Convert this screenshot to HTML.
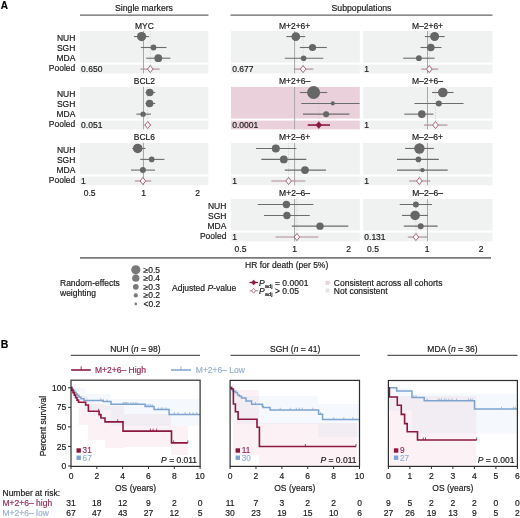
<!DOCTYPE html>
<html><head><meta charset="utf-8"><style>
html,body{margin:0;padding:0;background:#fff;}
svg{display:block;filter:blur(0.3px);font-family:"Liberation Sans",sans-serif;}
</style></head><body>
<svg width="520" height="518" viewBox="0 0 520 518">
<rect width="520" height="518" fill="#fff"/>
<text x="0.80" y="9.10" font-size="10" text-anchor="start" fill="#000" stroke="#000" stroke-width="0.18" font-weight="bold">A</text>
<text x="0.80" y="347.60" font-size="10.5" text-anchor="start" fill="#000" stroke="#000" stroke-width="0.18" font-weight="bold">B</text>
<text x="144.00" y="11.30" font-size="8.7" text-anchor="middle" fill="#1a1a1a" stroke="#1a1a1a" stroke-width="0.18" >Single markers</text>
<line x1="80.00" y1="15.20" x2="208.50" y2="15.20" stroke="#666" stroke-width="1.2" />
<text x="361.50" y="11.30" font-size="8.7" text-anchor="middle" fill="#1a1a1a" stroke="#1a1a1a" stroke-width="0.18" >Subpopulations</text>
<line x1="230.50" y1="15.20" x2="492.50" y2="15.20" stroke="#666" stroke-width="1.2" />
<rect x="79.90" y="31.00" width="128.40" height="31.60" fill="#f0f1f1" />
<rect x="79.90" y="64.60" width="128.40" height="8.80" fill="#f0f1f1" />
<text x="144.40" y="28.50" font-size="8.5" text-anchor="middle" fill="#1a1a1a" stroke="#1a1a1a" stroke-width="0.18" >MYC</text>
<line x1="143.50" y1="31.00" x2="143.50" y2="73.40" stroke="#a8a8a8" stroke-width="1.0" />
<line x1="150.30" y1="31.00" x2="150.30" y2="73.40" stroke="#c0c0c0" stroke-width="0.6" stroke-dasharray="1.2 1.6"/>
<line x1="133.90" y1="36.55" x2="149.10" y2="36.55" stroke="#6c6c6c" stroke-width="1.1" />
<circle cx="141.60" cy="36.55" r="4.60" fill="#666666"/>
<line x1="140.90" y1="47.50" x2="166.50" y2="47.50" stroke="#6c6c6c" stroke-width="1.1" />
<circle cx="153.50" cy="47.50" r="2.90" fill="#666666"/>
<line x1="146.20" y1="58.20" x2="170.40" y2="58.20" stroke="#6c6c6c" stroke-width="1.1" />
<circle cx="158.30" cy="58.20" r="3.90" fill="#666666"/>
<line x1="140.40" y1="69.10" x2="159.70" y2="69.10" stroke="#ab8a95" stroke-width="1.1" />
<path d="M147.50 69.10L150.30 65.60L153.10 69.10L150.30 72.60Z" fill="#fff" stroke="#9e5573" stroke-width="0.9"/>
<text x="81.10" y="71.60" font-size="8.5" text-anchor="start" fill="#1a1a1a" stroke="#1a1a1a" stroke-width="0.18" >0.650</text>
<text x="75.30" y="40.60" font-size="8.5" text-anchor="end" fill="#1a1a1a" stroke="#1a1a1a" stroke-width="0.18" >NUH</text>
<text x="75.30" y="50.70" font-size="8.5" text-anchor="end" fill="#1a1a1a" stroke="#1a1a1a" stroke-width="0.18" >SGH</text>
<text x="75.30" y="60.70" font-size="8.5" text-anchor="end" fill="#1a1a1a" stroke="#1a1a1a" stroke-width="0.18" >MDA</text>
<text x="75.30" y="71.10" font-size="8.5" text-anchor="end" fill="#1a1a1a" stroke="#1a1a1a" stroke-width="0.18" >Pooled</text>
<rect x="79.90" y="86.95" width="128.40" height="31.60" fill="#f0f1f1" />
<rect x="79.90" y="120.55" width="128.40" height="8.80" fill="#f0f1f1" />
<text x="144.40" y="84.45" font-size="8.5" text-anchor="middle" fill="#1a1a1a" stroke="#1a1a1a" stroke-width="0.18" >BCL2</text>
<line x1="143.50" y1="86.95" x2="143.50" y2="129.35" stroke="#a8a8a8" stroke-width="1.0" />
<line x1="147.70" y1="86.95" x2="147.70" y2="129.35" stroke="#c0c0c0" stroke-width="0.6" stroke-dasharray="1.2 1.6"/>
<line x1="145.50" y1="92.50" x2="155.20" y2="92.50" stroke="#6c6c6c" stroke-width="1.1" />
<circle cx="149.70" cy="92.50" r="3.80" fill="#666666"/>
<line x1="145.50" y1="103.45" x2="155.20" y2="103.45" stroke="#6c6c6c" stroke-width="1.1" />
<circle cx="149.60" cy="103.45" r="3.80" fill="#666666"/>
<line x1="136.40" y1="114.15" x2="150.90" y2="114.15" stroke="#6c6c6c" stroke-width="1.1" />
<circle cx="143.10" cy="114.15" r="2.70" fill="#666666"/>
<line x1="144.50" y1="125.05" x2="151.20" y2="125.05" stroke="#ab8a95" stroke-width="1.1" />
<path d="M144.90 125.05L147.70 121.55L150.50 125.05L147.70 128.55Z" fill="#fff" stroke="#9e5573" stroke-width="0.9"/>
<text x="81.10" y="127.55" font-size="8.5" text-anchor="start" fill="#1a1a1a" stroke="#1a1a1a" stroke-width="0.18" >0.051</text>
<text x="75.30" y="96.55" font-size="8.5" text-anchor="end" fill="#1a1a1a" stroke="#1a1a1a" stroke-width="0.18" >NUH</text>
<text x="75.30" y="106.65" font-size="8.5" text-anchor="end" fill="#1a1a1a" stroke="#1a1a1a" stroke-width="0.18" >SGH</text>
<text x="75.30" y="116.65" font-size="8.5" text-anchor="end" fill="#1a1a1a" stroke="#1a1a1a" stroke-width="0.18" >MDA</text>
<text x="75.30" y="127.05" font-size="8.5" text-anchor="end" fill="#1a1a1a" stroke="#1a1a1a" stroke-width="0.18" >Pooled</text>
<rect x="79.90" y="142.90" width="128.40" height="31.60" fill="#f0f1f1" />
<rect x="79.90" y="176.50" width="128.40" height="8.80" fill="#f0f1f1" />
<text x="144.40" y="140.40" font-size="8.5" text-anchor="middle" fill="#1a1a1a" stroke="#1a1a1a" stroke-width="0.18" >BCL6</text>
<line x1="143.50" y1="142.90" x2="143.50" y2="185.30" stroke="#a8a8a8" stroke-width="1.0" />
<line x1="142.90" y1="142.90" x2="142.90" y2="185.30" stroke="#c0c0c0" stroke-width="0.6" stroke-dasharray="1.2 1.6"/>
<line x1="132.30" y1="148.45" x2="145.50" y2="148.45" stroke="#6c6c6c" stroke-width="1.1" />
<circle cx="137.70" cy="148.45" r="4.80" fill="#666666"/>
<line x1="140.20" y1="159.40" x2="164.40" y2="159.40" stroke="#6c6c6c" stroke-width="1.1" />
<circle cx="151.70" cy="159.40" r="2.80" fill="#666666"/>
<line x1="131.00" y1="170.10" x2="155.00" y2="170.10" stroke="#6c6c6c" stroke-width="1.1" />
<circle cx="142.90" cy="170.10" r="3.00" fill="#666666"/>
<line x1="134.80" y1="181.00" x2="151.20" y2="181.00" stroke="#ab8a95" stroke-width="1.1" />
<path d="M140.10 181.00L142.90 177.50L145.70 181.00L142.90 184.50Z" fill="#fff" stroke="#9e5573" stroke-width="0.9"/>
<text x="81.10" y="183.50" font-size="8.5" text-anchor="start" fill="#1a1a1a" stroke="#1a1a1a" stroke-width="0.18" >1</text>
<text x="75.30" y="152.50" font-size="8.5" text-anchor="end" fill="#1a1a1a" stroke="#1a1a1a" stroke-width="0.18" >NUH</text>
<text x="75.30" y="162.60" font-size="8.5" text-anchor="end" fill="#1a1a1a" stroke="#1a1a1a" stroke-width="0.18" >SGH</text>
<text x="75.30" y="172.60" font-size="8.5" text-anchor="end" fill="#1a1a1a" stroke="#1a1a1a" stroke-width="0.18" >MDA</text>
<text x="75.30" y="183.00" font-size="8.5" text-anchor="end" fill="#1a1a1a" stroke="#1a1a1a" stroke-width="0.18" >Pooled</text>
<rect x="231.00" y="31.00" width="128.80" height="31.60" fill="#f0f1f1" />
<rect x="231.00" y="64.60" width="128.80" height="8.80" fill="#f0f1f1" />
<text x="294.60" y="28.50" font-size="8.5" text-anchor="middle" fill="#1a1a1a" stroke="#1a1a1a" stroke-width="0.18" >M+2+6+</text>
<line x1="294.60" y1="31.00" x2="294.60" y2="73.40" stroke="#a8a8a8" stroke-width="1.0" />
<line x1="303.10" y1="31.00" x2="303.10" y2="73.40" stroke="#c0c0c0" stroke-width="0.6" stroke-dasharray="1.2 1.6"/>
<line x1="286.40" y1="36.55" x2="305.20" y2="36.55" stroke="#6c6c6c" stroke-width="1.1" />
<circle cx="295.80" cy="36.55" r="4.40" fill="#666666"/>
<line x1="299.80" y1="47.50" x2="326.80" y2="47.50" stroke="#6c6c6c" stroke-width="1.1" />
<circle cx="312.50" cy="47.50" r="3.60" fill="#666666"/>
<line x1="284.80" y1="58.20" x2="323.30" y2="58.20" stroke="#6c6c6c" stroke-width="1.1" />
<circle cx="303.60" cy="58.20" r="2.80" fill="#666666"/>
<line x1="293.70" y1="69.10" x2="313.30" y2="69.10" stroke="#ab8a95" stroke-width="1.1" />
<path d="M300.30 69.10L303.10 65.60L305.90 69.10L303.10 72.60Z" fill="#fff" stroke="#9e5573" stroke-width="0.9"/>
<text x="232.20" y="71.60" font-size="8.5" text-anchor="start" fill="#1a1a1a" stroke="#1a1a1a" stroke-width="0.18" >0.677</text>
<rect x="231.00" y="86.95" width="128.80" height="31.60" fill="#e9d0da" />
<rect x="231.00" y="120.55" width="128.80" height="8.80" fill="#e9d0da" />
<text x="294.60" y="84.45" font-size="8.5" text-anchor="middle" fill="#1a1a1a" stroke="#1a1a1a" stroke-width="0.18" >M+2+6&#8211;</text>
<line x1="294.60" y1="86.95" x2="294.60" y2="129.35" stroke="#a8a8a8" stroke-width="1.0" />
<line x1="318.80" y1="86.95" x2="318.80" y2="129.35" stroke="#c0c0c0" stroke-width="0.6" stroke-dasharray="1.2 1.6"/>
<line x1="299.80" y1="92.50" x2="327.30" y2="92.50" stroke="#6c6c6c" stroke-width="1.1" />
<circle cx="313.60" cy="92.50" r="6.50" fill="#666666"/>
<line x1="301.20" y1="103.45" x2="359.60" y2="103.45" stroke="#6c6c6c" stroke-width="1.1" />
<circle cx="332.80" cy="103.45" r="2.10" fill="#666666"/>
<line x1="303.00" y1="114.15" x2="349.40" y2="114.15" stroke="#6c6c6c" stroke-width="1.1" />
<circle cx="326.10" cy="114.15" r="3.00" fill="#666666"/>
<line x1="307.70" y1="125.05" x2="330.00" y2="125.05" stroke="#8c1840" stroke-width="1.6" />
<path d="M315.90 125.05L318.80 121.65L321.70 125.05L318.80 128.45Z" fill="#8c1840" stroke="#8c1840" stroke-width="0.6"/>
<text x="232.20" y="127.55" font-size="8.5" text-anchor="start" fill="#1a1a1a" stroke="#1a1a1a" stroke-width="0.18" >0.0001</text>
<rect x="231.00" y="142.90" width="128.80" height="31.60" fill="#f0f1f1" />
<rect x="231.00" y="176.50" width="128.80" height="8.80" fill="#f0f1f1" />
<text x="294.60" y="140.40" font-size="8.5" text-anchor="middle" fill="#1a1a1a" stroke="#1a1a1a" stroke-width="0.18" >M+2&#8211;6+</text>
<line x1="294.60" y1="142.90" x2="294.60" y2="185.30" stroke="#a8a8a8" stroke-width="1.0" />
<line x1="288.60" y1="142.90" x2="288.60" y2="185.30" stroke="#c0c0c0" stroke-width="0.6" stroke-dasharray="1.2 1.6"/>
<line x1="256.00" y1="148.45" x2="296.40" y2="148.45" stroke="#6c6c6c" stroke-width="1.1" />
<circle cx="275.80" cy="148.45" r="4.00" fill="#666666"/>
<line x1="261.30" y1="159.40" x2="306.30" y2="159.40" stroke="#6c6c6c" stroke-width="1.1" />
<circle cx="283.80" cy="159.40" r="3.90" fill="#666666"/>
<line x1="284.80" y1="170.10" x2="326.00" y2="170.10" stroke="#6c6c6c" stroke-width="1.1" />
<circle cx="305.00" cy="170.10" r="3.90" fill="#666666"/>
<line x1="271.30" y1="181.00" x2="305.40" y2="181.00" stroke="#ab8a95" stroke-width="1.1" />
<path d="M285.80 181.00L288.60 177.50L291.40 181.00L288.60 184.50Z" fill="#fff" stroke="#9e5573" stroke-width="0.9"/>
<text x="232.20" y="183.50" font-size="8.5" text-anchor="start" fill="#1a1a1a" stroke="#1a1a1a" stroke-width="0.18" >1</text>
<rect x="231.00" y="198.95" width="128.80" height="31.60" fill="#f0f1f1" />
<rect x="231.00" y="232.55" width="128.80" height="8.80" fill="#f0f1f1" />
<text x="294.60" y="196.45" font-size="8.5" text-anchor="middle" fill="#1a1a1a" stroke="#1a1a1a" stroke-width="0.18" >M+2&#8211;6&#8211;</text>
<line x1="294.60" y1="198.95" x2="294.60" y2="241.35" stroke="#a8a8a8" stroke-width="1.0" />
<line x1="296.90" y1="198.95" x2="296.90" y2="241.35" stroke="#c0c0c0" stroke-width="0.6" stroke-dasharray="1.2 1.6"/>
<line x1="257.80" y1="204.50" x2="313.30" y2="204.50" stroke="#6c6c6c" stroke-width="1.1" />
<circle cx="286.40" cy="204.50" r="3.70" fill="#666666"/>
<line x1="264.00" y1="215.45" x2="309.80" y2="215.45" stroke="#6c6c6c" stroke-width="1.1" />
<circle cx="286.90" cy="215.45" r="3.70" fill="#666666"/>
<line x1="291.80" y1="226.15" x2="348.30" y2="226.15" stroke="#6c6c6c" stroke-width="1.1" />
<circle cx="320.00" cy="226.15" r="3.70" fill="#666666"/>
<line x1="275.60" y1="237.05" x2="318.40" y2="237.05" stroke="#ab8a95" stroke-width="1.1" />
<path d="M294.10 237.05L296.90 233.55L299.70 237.05L296.90 240.55Z" fill="#fff" stroke="#9e5573" stroke-width="0.9"/>
<text x="232.20" y="239.55" font-size="8.5" text-anchor="start" fill="#1a1a1a" stroke="#1a1a1a" stroke-width="0.18" >1</text>
<text x="226.40" y="208.55" font-size="8.5" text-anchor="end" fill="#1a1a1a" stroke="#1a1a1a" stroke-width="0.18" >NUH</text>
<text x="226.40" y="218.65" font-size="8.5" text-anchor="end" fill="#1a1a1a" stroke="#1a1a1a" stroke-width="0.18" >SGH</text>
<text x="226.40" y="228.65" font-size="8.5" text-anchor="end" fill="#1a1a1a" stroke="#1a1a1a" stroke-width="0.18" >MDA</text>
<text x="226.40" y="239.05" font-size="8.5" text-anchor="end" fill="#1a1a1a" stroke="#1a1a1a" stroke-width="0.18" >Pooled</text>
<rect x="363.10" y="31.00" width="129.40" height="31.60" fill="#f0f1f1" />
<rect x="363.10" y="64.60" width="129.40" height="8.80" fill="#f0f1f1" />
<text x="427.50" y="28.50" font-size="8.5" text-anchor="middle" fill="#1a1a1a" stroke="#1a1a1a" stroke-width="0.18" >M&#8211;2+6+</text>
<line x1="427.50" y1="31.00" x2="427.50" y2="73.40" stroke="#a8a8a8" stroke-width="1.0" />
<line x1="429.30" y1="31.00" x2="429.30" y2="73.40" stroke="#c0c0c0" stroke-width="0.6" stroke-dasharray="1.2 1.6"/>
<line x1="424.80" y1="36.55" x2="444.70" y2="36.55" stroke="#6c6c6c" stroke-width="1.1" />
<circle cx="434.60" cy="36.55" r="4.50" fill="#666666"/>
<line x1="420.50" y1="47.50" x2="441.50" y2="47.50" stroke="#6c6c6c" stroke-width="1.1" />
<circle cx="430.80" cy="47.50" r="3.80" fill="#666666"/>
<line x1="403.20" y1="58.20" x2="434.70" y2="58.20" stroke="#6c6c6c" stroke-width="1.1" />
<circle cx="418.90" cy="58.20" r="2.90" fill="#666666"/>
<line x1="421.30" y1="69.10" x2="438.20" y2="69.10" stroke="#ab8a95" stroke-width="1.1" />
<path d="M426.50 69.10L429.30 65.60L432.10 69.10L429.30 72.60Z" fill="#fff" stroke="#9e5573" stroke-width="0.9"/>
<text x="364.30" y="71.60" font-size="8.5" text-anchor="start" fill="#1a1a1a" stroke="#1a1a1a" stroke-width="0.18" >1</text>
<rect x="363.10" y="86.95" width="129.40" height="31.60" fill="#f0f1f1" />
<rect x="363.10" y="120.55" width="129.40" height="8.80" fill="#f0f1f1" />
<text x="427.50" y="84.45" font-size="8.5" text-anchor="middle" fill="#1a1a1a" stroke="#1a1a1a" stroke-width="0.18" >M&#8211;2+6&#8211;</text>
<line x1="427.50" y1="86.95" x2="427.50" y2="129.35" stroke="#a8a8a8" stroke-width="1.0" />
<line x1="435.50" y1="86.95" x2="435.50" y2="129.35" stroke="#c0c0c0" stroke-width="0.6" stroke-dasharray="1.2 1.6"/>
<line x1="432.00" y1="92.50" x2="453.60" y2="92.50" stroke="#6c6c6c" stroke-width="1.1" />
<circle cx="442.80" cy="92.50" r="4.80" fill="#666666"/>
<line x1="414.50" y1="103.45" x2="463.50" y2="103.45" stroke="#6c6c6c" stroke-width="1.1" />
<circle cx="438.80" cy="103.45" r="3.00" fill="#666666"/>
<line x1="404.30" y1="114.15" x2="433.40" y2="114.15" stroke="#6c6c6c" stroke-width="1.1" />
<circle cx="421.80" cy="114.15" r="3.80" fill="#666666"/>
<line x1="424.00" y1="125.05" x2="447.40" y2="125.05" stroke="#ab8a95" stroke-width="1.1" />
<path d="M432.70 125.05L435.50 121.55L438.30 125.05L435.50 128.55Z" fill="#fff" stroke="#9e5573" stroke-width="0.9"/>
<text x="364.30" y="127.55" font-size="8.5" text-anchor="start" fill="#1a1a1a" stroke="#1a1a1a" stroke-width="0.18" >1</text>
<rect x="363.10" y="142.90" width="129.40" height="31.60" fill="#f0f1f1" />
<rect x="363.10" y="176.50" width="129.40" height="8.80" fill="#f0f1f1" />
<text x="427.50" y="140.40" font-size="8.5" text-anchor="middle" fill="#1a1a1a" stroke="#1a1a1a" stroke-width="0.18" >M&#8211;2&#8211;6+</text>
<line x1="427.50" y1="142.90" x2="427.50" y2="185.30" stroke="#a8a8a8" stroke-width="1.0" />
<line x1="419.40" y1="142.90" x2="419.40" y2="185.30" stroke="#c0c0c0" stroke-width="0.6" stroke-dasharray="1.2 1.6"/>
<line x1="405.10" y1="148.45" x2="433.90" y2="148.45" stroke="#6c6c6c" stroke-width="1.1" />
<circle cx="419.40" cy="148.45" r="5.20" fill="#666666"/>
<line x1="397.00" y1="159.40" x2="438.80" y2="159.40" stroke="#6c6c6c" stroke-width="1.1" />
<circle cx="418.40" cy="159.40" r="2.80" fill="#666666"/>
<line x1="397.00" y1="170.10" x2="447.70" y2="170.10" stroke="#6c6c6c" stroke-width="1.1" />
<circle cx="422.40" cy="170.10" r="2.20" fill="#666666"/>
<line x1="409.20" y1="181.00" x2="430.20" y2="181.00" stroke="#ab8a95" stroke-width="1.1" />
<path d="M416.60 181.00L419.40 177.50L422.20 181.00L419.40 184.50Z" fill="#fff" stroke="#9e5573" stroke-width="0.9"/>
<text x="364.30" y="183.50" font-size="8.5" text-anchor="start" fill="#1a1a1a" stroke="#1a1a1a" stroke-width="0.18" >1</text>
<rect x="363.10" y="198.95" width="129.40" height="31.60" fill="#f0f1f1" />
<rect x="363.10" y="232.55" width="129.40" height="8.80" fill="#f0f1f1" />
<text x="427.50" y="196.45" font-size="8.5" text-anchor="middle" fill="#1a1a1a" stroke="#1a1a1a" stroke-width="0.18" >M&#8211;2&#8211;6&#8211;</text>
<line x1="427.50" y1="198.95" x2="427.50" y2="241.35" stroke="#a8a8a8" stroke-width="1.0" />
<line x1="415.90" y1="198.95" x2="415.90" y2="241.35" stroke="#c0c0c0" stroke-width="0.6" stroke-dasharray="1.2 1.6"/>
<line x1="399.70" y1="204.50" x2="432.00" y2="204.50" stroke="#6c6c6c" stroke-width="1.1" />
<circle cx="415.90" cy="204.50" r="3.00" fill="#666666"/>
<line x1="401.90" y1="215.45" x2="428.00" y2="215.45" stroke="#6c6c6c" stroke-width="1.1" />
<circle cx="415.10" cy="215.45" r="4.80" fill="#666666"/>
<line x1="403.80" y1="226.15" x2="437.70" y2="226.15" stroke="#6c6c6c" stroke-width="1.1" />
<circle cx="420.70" cy="226.15" r="3.00" fill="#666666"/>
<line x1="407.80" y1="237.05" x2="427.50" y2="237.05" stroke="#ab8a95" stroke-width="1.1" />
<path d="M413.10 237.05L415.90 233.55L418.70 237.05L415.90 240.55Z" fill="#fff" stroke="#9e5573" stroke-width="0.9"/>
<text x="364.30" y="239.55" font-size="8.5" text-anchor="start" fill="#1a1a1a" stroke="#1a1a1a" stroke-width="0.18" >0.131</text>
<text x="89.60" y="196.40" font-size="8.5" text-anchor="middle" fill="#1a1a1a" stroke="#1a1a1a" stroke-width="0.18" >0.5</text>
<text x="143.60" y="196.40" font-size="8.5" text-anchor="middle" fill="#1a1a1a" stroke="#1a1a1a" stroke-width="0.18" >1</text>
<text x="197.60" y="196.40" font-size="8.5" text-anchor="middle" fill="#1a1a1a" stroke="#1a1a1a" stroke-width="0.18" >2</text>
<text x="240.50" y="251.90" font-size="8.5" text-anchor="middle" fill="#1a1a1a" stroke="#1a1a1a" stroke-width="0.18" >0.5</text>
<text x="294.50" y="251.90" font-size="8.5" text-anchor="middle" fill="#1a1a1a" stroke="#1a1a1a" stroke-width="0.18" >1</text>
<text x="348.50" y="251.90" font-size="8.5" text-anchor="middle" fill="#1a1a1a" stroke="#1a1a1a" stroke-width="0.18" >2</text>
<text x="373.00" y="251.90" font-size="8.5" text-anchor="middle" fill="#1a1a1a" stroke="#1a1a1a" stroke-width="0.18" >0.5</text>
<text x="427.00" y="251.90" font-size="8.5" text-anchor="middle" fill="#1a1a1a" stroke="#1a1a1a" stroke-width="0.18" >1</text>
<text x="481.00" y="251.90" font-size="8.5" text-anchor="middle" fill="#1a1a1a" stroke="#1a1a1a" stroke-width="0.18" >2</text>
<line x1="80.00" y1="257.80" x2="491.00" y2="257.80" stroke="#7a7a7a" stroke-width="1.8" />
<text x="286.70" y="267.60" font-size="8.5" text-anchor="middle" fill="#1a1a1a" stroke="#1a1a1a" stroke-width="0.18" >HR for death (per 5%)</text>
<text x="60.00" y="285.50" font-size="8.5" text-anchor="start" fill="#1a1a1a" stroke="#1a1a1a" stroke-width="0.18" >Random-effects</text>
<text x="60.00" y="296.00" font-size="8.5" text-anchor="start" fill="#1a1a1a" stroke="#1a1a1a" stroke-width="0.18" >weighting</text>
<circle cx="135.80" cy="269.80" r="4.60" fill="#797979"/>
<text x="143.50" y="272.80" font-size="8.5" text-anchor="start" fill="#1a1a1a" stroke="#1a1a1a" stroke-width="0.18" >&#8805;0.5</text>
<circle cx="135.80" cy="278.20" r="3.60" fill="#797979"/>
<text x="143.50" y="281.20" font-size="8.5" text-anchor="start" fill="#1a1a1a" stroke="#1a1a1a" stroke-width="0.18" >&#8805;0.4</text>
<circle cx="135.80" cy="286.80" r="2.90" fill="#797979"/>
<text x="143.50" y="289.80" font-size="8.5" text-anchor="start" fill="#1a1a1a" stroke="#1a1a1a" stroke-width="0.18" >&#8805;0.3</text>
<circle cx="135.80" cy="295.40" r="2.10" fill="#797979"/>
<text x="143.50" y="298.40" font-size="8.5" text-anchor="start" fill="#1a1a1a" stroke="#1a1a1a" stroke-width="0.18" >&#8805;0.2</text>
<circle cx="135.80" cy="303.90" r="1.30" fill="#797979"/>
<text x="143.50" y="306.90" font-size="8.5" text-anchor="start" fill="#1a1a1a" stroke="#1a1a1a" stroke-width="0.18" >&lt;0.2</text>
<text x="172.00" y="290.50" font-size="8.5" text-anchor="start" fill="#1a1a1a" stroke="#1a1a1a" stroke-width="0.18" >Adjusted <tspan font-style="italic">P</tspan>-value</text>
<line x1="249.50" y1="282.50" x2="258.00" y2="282.50" stroke="#8c1840" stroke-width="1.3" />
<path d="M251.50 282.50L253.70 279.90L255.90 282.50L253.70 285.10Z" fill="#8c1840" stroke="#8c1840" stroke-width="0.5"/>
<text x="259.00" y="285.50" font-size="8.5" text-anchor="start" fill="#1a1a1a" stroke="#1a1a1a" stroke-width="0.18" ><tspan font-style="italic">P</tspan><tspan font-size="6" dy="2">adj</tspan><tspan dy="-2"> = 0.0001</tspan></text>
<line x1="249.50" y1="290.80" x2="258.00" y2="290.80" stroke="#ab8a95" stroke-width="1.0" />
<path d="M251.70 290.80L253.70 288.40L255.70 290.80L253.70 293.20Z" fill="#fff" stroke="#b5577a" stroke-width="0.8"/>
<text x="259.00" y="293.80" font-size="8.5" text-anchor="start" fill="#1a1a1a" stroke="#1a1a1a" stroke-width="0.18" ><tspan font-style="italic">P</tspan><tspan font-size="6" dy="2">adj</tspan><tspan dy="-2"> &gt; 0.05</tspan></text>
<rect x="325.60" y="280.90" width="3.90" height="3.90" fill="#e9d0da" />
<text x="333.80" y="286.30" font-size="8.5" text-anchor="start" fill="#1a1a1a" stroke="#1a1a1a" stroke-width="0.18" >Consistent across all cohorts</text>
<rect x="325.60" y="288.60" width="3.90" height="3.90" fill="#e2e3e3" />
<text x="333.80" y="293.60" font-size="8.5" text-anchor="start" fill="#1a1a1a" stroke="#1a1a1a" stroke-width="0.18" >Not consistent</text>
<text x="135.40" y="351.80" font-size="8.5" text-anchor="middle" fill="#1a1a1a" stroke="#1a1a1a" stroke-width="0.18" >NUH (<tspan font-style="italic">n</tspan> = 98)</text>
<line x1="70.80" y1="355.40" x2="200.00" y2="355.40" stroke="#5a5a5a" stroke-width="1.1" />
<path d="M70.8 388.0L78.5 388.0L78.5 396.0L88.0 396.0L88.0 404.0L105.0 404.0L105.0 406.0L124.0 406.0L124.0 414.0L171.0 414.0L171.0 426.0L188.0 426.0L188.0 455.0L171.0 455.0L171.0 447.0L124.0 447.0L124.0 448.0L105.0 448.0L105.0 440.0L88.0 440.0L88.0 425.0L78.5 425.0L78.5 392.0L70.8 392.0Z" fill="rgba(215,110,150,0.085)"/>
<path d="M70.8 388.0L85.0 388.0L85.0 394.0L111.0 394.0L111.0 399.0L199.3 399.0L199.3 426.0L111.0 426.0L111.0 410.0L85.0 410.0L85.0 398.0L70.8 398.0Z" fill="rgba(120,160,210,0.075)"/>
<path d="M70.80 387.60H72.00V389.20H73.30V390.80H74.60V392.40H76.00V394.00H77.50V395.60H79.00V397.20H81.00V398.80H84.00V400.40H103.20V401.60H111.00V404.30H145.10V406.40H154.00V409.60H169.10V414.40H200.10" fill="none" stroke="#7fa3cf" stroke-width="1.5"/>
<line x1="100.80" y1="398.20" x2="100.80" y2="400.40" stroke="#7fa3cf" stroke-width="0.7" />
<line x1="103.20" y1="399.40" x2="103.20" y2="401.60" stroke="#7fa3cf" stroke-width="0.7" />
<line x1="107.10" y1="399.40" x2="107.10" y2="401.60" stroke="#7fa3cf" stroke-width="0.7" />
<line x1="123.00" y1="402.10" x2="123.00" y2="404.30" stroke="#7fa3cf" stroke-width="0.7" />
<line x1="124.20" y1="402.10" x2="124.20" y2="404.30" stroke="#7fa3cf" stroke-width="0.7" />
<line x1="125.40" y1="402.10" x2="125.40" y2="404.30" stroke="#7fa3cf" stroke-width="0.7" />
<line x1="126.60" y1="402.10" x2="126.60" y2="404.30" stroke="#7fa3cf" stroke-width="0.7" />
<line x1="128.00" y1="402.10" x2="128.00" y2="404.30" stroke="#7fa3cf" stroke-width="0.7" />
<line x1="130.90" y1="402.10" x2="130.90" y2="404.30" stroke="#7fa3cf" stroke-width="0.7" />
<line x1="133.10" y1="402.10" x2="133.10" y2="404.30" stroke="#7fa3cf" stroke-width="0.7" />
<line x1="135.30" y1="402.10" x2="135.30" y2="404.30" stroke="#7fa3cf" stroke-width="0.7" />
<line x1="137.10" y1="402.10" x2="137.10" y2="404.30" stroke="#7fa3cf" stroke-width="0.7" />
<line x1="146.90" y1="404.20" x2="146.90" y2="406.40" stroke="#7fa3cf" stroke-width="0.7" />
<line x1="148.70" y1="404.20" x2="148.70" y2="406.40" stroke="#7fa3cf" stroke-width="0.7" />
<line x1="150.40" y1="404.20" x2="150.40" y2="406.40" stroke="#7fa3cf" stroke-width="0.7" />
<line x1="152.20" y1="404.20" x2="152.20" y2="406.40" stroke="#7fa3cf" stroke-width="0.7" />
<line x1="158.40" y1="407.40" x2="158.40" y2="409.60" stroke="#7fa3cf" stroke-width="0.7" />
<line x1="161.10" y1="407.40" x2="161.10" y2="409.60" stroke="#7fa3cf" stroke-width="0.7" />
<line x1="162.90" y1="407.40" x2="162.90" y2="409.60" stroke="#7fa3cf" stroke-width="0.7" />
<line x1="166.40" y1="407.40" x2="166.40" y2="409.60" stroke="#7fa3cf" stroke-width="0.7" />
<line x1="174.40" y1="412.20" x2="174.40" y2="414.40" stroke="#7fa3cf" stroke-width="0.7" />
<line x1="178.00" y1="412.20" x2="178.00" y2="414.40" stroke="#7fa3cf" stroke-width="0.7" />
<line x1="185.10" y1="412.20" x2="185.10" y2="414.40" stroke="#7fa3cf" stroke-width="0.7" />
<line x1="189.60" y1="412.20" x2="189.60" y2="414.40" stroke="#7fa3cf" stroke-width="0.7" />
<line x1="193.10" y1="412.20" x2="193.10" y2="414.40" stroke="#7fa3cf" stroke-width="0.7" />
<line x1="196.70" y1="412.20" x2="196.70" y2="414.40" stroke="#7fa3cf" stroke-width="0.7" />
<path d="M70.80 387.60H71.80V390.10H73.00V392.60H74.30V395.10H75.60V397.60H77.00V400.10H78.50V402.30H85.60V405.00H88.40V411.30H99.10V414.60H100.90V418.00H105.00V421.90H123.00V431.10H171.50V442.90H187.80" fill="none" stroke="#8c1840" stroke-width="1.6"/>
<line x1="98.70" y1="408.80" x2="98.70" y2="411.30" stroke="#8c1840" stroke-width="0.8" />
<line x1="117.70" y1="419.40" x2="117.70" y2="421.90" stroke="#8c1840" stroke-width="0.8" />
<line x1="150.40" y1="428.60" x2="150.40" y2="431.10" stroke="#8c1840" stroke-width="0.8" />
<line x1="153.10" y1="428.60" x2="153.10" y2="431.10" stroke="#8c1840" stroke-width="0.8" />
<line x1="156.70" y1="428.60" x2="156.70" y2="431.10" stroke="#8c1840" stroke-width="0.8" />
<line x1="173.60" y1="440.40" x2="173.60" y2="442.90" stroke="#8c1840" stroke-width="0.8" />
<line x1="187.80" y1="440.40" x2="187.80" y2="442.90" stroke="#8c1840" stroke-width="0.8" />
<rect x="71.00" y="380.20" width="129.10" height="86.20" fill="none" stroke="#2f2f2f" stroke-width="1.2"/>
<line x1="71.00" y1="466.40" x2="71.00" y2="469.00" stroke="#2f2f2f" stroke-width="1.0" />
<text x="71.00" y="479.20" font-size="8.5" text-anchor="middle" fill="#1a1a1a" stroke="#1a1a1a" stroke-width="0.18" >0</text>
<line x1="96.82" y1="466.40" x2="96.82" y2="469.00" stroke="#2f2f2f" stroke-width="1.0" />
<text x="96.82" y="479.20" font-size="8.5" text-anchor="middle" fill="#1a1a1a" stroke="#1a1a1a" stroke-width="0.18" >2</text>
<line x1="122.64" y1="466.40" x2="122.64" y2="469.00" stroke="#2f2f2f" stroke-width="1.0" />
<text x="122.64" y="479.20" font-size="8.5" text-anchor="middle" fill="#1a1a1a" stroke="#1a1a1a" stroke-width="0.18" >4</text>
<line x1="148.46" y1="466.40" x2="148.46" y2="469.00" stroke="#2f2f2f" stroke-width="1.0" />
<text x="148.46" y="479.20" font-size="8.5" text-anchor="middle" fill="#1a1a1a" stroke="#1a1a1a" stroke-width="0.18" >6</text>
<line x1="174.28" y1="466.40" x2="174.28" y2="469.00" stroke="#2f2f2f" stroke-width="1.0" />
<text x="174.28" y="479.20" font-size="8.5" text-anchor="middle" fill="#1a1a1a" stroke="#1a1a1a" stroke-width="0.18" >8</text>
<line x1="200.10" y1="466.40" x2="200.10" y2="469.00" stroke="#2f2f2f" stroke-width="1.0" />
<text x="200.10" y="479.20" font-size="8.5" text-anchor="middle" fill="#1a1a1a" stroke="#1a1a1a" stroke-width="0.18" >10</text>
<text x="135.55" y="491.00" font-size="8.5" text-anchor="middle" fill="#1a1a1a" stroke="#1a1a1a" stroke-width="0.18" >OS (years)</text>
<rect x="76.50" y="448.30" width="4.40" height="4.40" fill="#8c1840" />
<text x="82.60" y="453.20" font-size="8.2" text-anchor="start" fill="#962a5a" stroke="#962a5a" stroke-width="0.18" >31</text>
<rect x="76.50" y="455.50" width="4.40" height="4.40" fill="#7fa3cf" />
<text x="82.60" y="460.60" font-size="8.2" text-anchor="start" fill="#98b1d4" stroke="#98b1d4" stroke-width="0.18" >67</text>
<text x="197.10" y="463.00" font-size="8.5" text-anchor="end" fill="#1a1a1a" stroke="#1a1a1a" stroke-width="0.18" ><tspan font-style="italic">P</tspan> = 0.011</text>
<text x="71.00" y="506.00" font-size="8.5" text-anchor="middle" fill="#1a1a1a" stroke="#1a1a1a" stroke-width="0.18" >31</text>
<text x="71.00" y="516.20" font-size="8.5" text-anchor="middle" fill="#1a1a1a" stroke="#1a1a1a" stroke-width="0.18" >67</text>
<text x="96.82" y="506.00" font-size="8.5" text-anchor="middle" fill="#1a1a1a" stroke="#1a1a1a" stroke-width="0.18" >18</text>
<text x="96.82" y="516.20" font-size="8.5" text-anchor="middle" fill="#1a1a1a" stroke="#1a1a1a" stroke-width="0.18" >47</text>
<text x="122.64" y="506.00" font-size="8.5" text-anchor="middle" fill="#1a1a1a" stroke="#1a1a1a" stroke-width="0.18" >12</text>
<text x="122.64" y="516.20" font-size="8.5" text-anchor="middle" fill="#1a1a1a" stroke="#1a1a1a" stroke-width="0.18" >43</text>
<text x="148.46" y="506.00" font-size="8.5" text-anchor="middle" fill="#1a1a1a" stroke="#1a1a1a" stroke-width="0.18" >9</text>
<text x="148.46" y="516.20" font-size="8.5" text-anchor="middle" fill="#1a1a1a" stroke="#1a1a1a" stroke-width="0.18" >27</text>
<text x="174.28" y="506.00" font-size="8.5" text-anchor="middle" fill="#1a1a1a" stroke="#1a1a1a" stroke-width="0.18" >2</text>
<text x="174.28" y="516.20" font-size="8.5" text-anchor="middle" fill="#1a1a1a" stroke="#1a1a1a" stroke-width="0.18" >12</text>
<text x="200.10" y="506.00" font-size="8.5" text-anchor="middle" fill="#1a1a1a" stroke="#1a1a1a" stroke-width="0.18" >0</text>
<text x="200.10" y="516.20" font-size="8.5" text-anchor="middle" fill="#1a1a1a" stroke="#1a1a1a" stroke-width="0.18" >5</text>
<text x="295.25" y="351.80" font-size="8.5" text-anchor="middle" fill="#1a1a1a" stroke="#1a1a1a" stroke-width="0.18" >SGH (<tspan font-style="italic">n</tspan> = 41)</text>
<line x1="230.50" y1="355.40" x2="360.00" y2="355.40" stroke="#5a5a5a" stroke-width="1.1" />
<path d="M230.1 388.0L233.4 388.0L233.4 390.0L259.0 390.0L259.0 423.0L357.0 423.0L357.0 465.5L259.0 465.5L259.0 455.0L233.4 455.0L233.4 420.0L230.1 420.0Z" fill="rgba(215,110,150,0.085)"/>
<path d="M230.1 388.0L236.0 388.0L236.0 396.0L318.0 396.0L318.0 404.0L359.0 404.0L359.0 437.0L318.0 437.0L318.0 424.0L236.0 424.0L236.0 395.0L230.1 395.0Z" fill="rgba(120,160,210,0.075)"/>
<path d="M230.10 387.60H231.50V389.50H233.00V391.20H235.40V392.60H237.50V394.90H239.40V396.20H241.50V398.00H246.00V401.00H251.60V404.30H262.50V406.40H263.20V407.60H270.10V409.90H318.60V414.30H322.60V419.40H359.50" fill="none" stroke="#7fa3cf" stroke-width="1.5"/>
<line x1="236.00" y1="390.40" x2="236.00" y2="392.60" stroke="#7fa3cf" stroke-width="0.7" />
<line x1="255.50" y1="402.10" x2="255.50" y2="404.30" stroke="#7fa3cf" stroke-width="0.7" />
<line x1="262.00" y1="404.20" x2="262.00" y2="406.40" stroke="#7fa3cf" stroke-width="0.7" />
<line x1="280.20" y1="407.70" x2="280.20" y2="409.90" stroke="#7fa3cf" stroke-width="0.7" />
<line x1="290.30" y1="407.70" x2="290.30" y2="409.90" stroke="#7fa3cf" stroke-width="0.7" />
<line x1="296.30" y1="407.70" x2="296.30" y2="409.90" stroke="#7fa3cf" stroke-width="0.7" />
<line x1="299.40" y1="407.70" x2="299.40" y2="409.90" stroke="#7fa3cf" stroke-width="0.7" />
<line x1="302.40" y1="407.70" x2="302.40" y2="409.90" stroke="#7fa3cf" stroke-width="0.7" />
<line x1="312.90" y1="407.70" x2="312.90" y2="409.90" stroke="#7fa3cf" stroke-width="0.7" />
<line x1="320.60" y1="412.10" x2="320.60" y2="414.30" stroke="#7fa3cf" stroke-width="0.7" />
<line x1="333.70" y1="417.20" x2="333.70" y2="419.40" stroke="#7fa3cf" stroke-width="0.7" />
<line x1="343.80" y1="417.20" x2="343.80" y2="419.40" stroke="#7fa3cf" stroke-width="0.7" />
<line x1="352.90" y1="417.20" x2="352.90" y2="419.40" stroke="#7fa3cf" stroke-width="0.7" />
<path d="M230.10 387.60H231.60V389.00H233.40V404.00H235.40V411.80H238.10V419.20H257.00V427.30H259.40V446.50H356.00" fill="none" stroke="#8c1840" stroke-width="1.6"/>
<line x1="305.40" y1="444.00" x2="305.40" y2="446.50" stroke="#8c1840" stroke-width="0.8" />
<line x1="356.00" y1="444.00" x2="356.00" y2="446.50" stroke="#8c1840" stroke-width="0.8" />
<rect x="230.10" y="380.40" width="129.40" height="86.00" fill="none" stroke="#2f2f2f" stroke-width="1.2"/>
<line x1="230.10" y1="466.40" x2="230.10" y2="469.00" stroke="#2f2f2f" stroke-width="1.0" />
<text x="230.10" y="479.20" font-size="8.5" text-anchor="middle" fill="#1a1a1a" stroke="#1a1a1a" stroke-width="0.18" >0</text>
<line x1="255.98" y1="466.40" x2="255.98" y2="469.00" stroke="#2f2f2f" stroke-width="1.0" />
<text x="255.98" y="479.20" font-size="8.5" text-anchor="middle" fill="#1a1a1a" stroke="#1a1a1a" stroke-width="0.18" >2</text>
<line x1="281.86" y1="466.40" x2="281.86" y2="469.00" stroke="#2f2f2f" stroke-width="1.0" />
<text x="281.86" y="479.20" font-size="8.5" text-anchor="middle" fill="#1a1a1a" stroke="#1a1a1a" stroke-width="0.18" >4</text>
<line x1="307.74" y1="466.40" x2="307.74" y2="469.00" stroke="#2f2f2f" stroke-width="1.0" />
<text x="307.74" y="479.20" font-size="8.5" text-anchor="middle" fill="#1a1a1a" stroke="#1a1a1a" stroke-width="0.18" >6</text>
<line x1="333.62" y1="466.40" x2="333.62" y2="469.00" stroke="#2f2f2f" stroke-width="1.0" />
<text x="333.62" y="479.20" font-size="8.5" text-anchor="middle" fill="#1a1a1a" stroke="#1a1a1a" stroke-width="0.18" >8</text>
<line x1="359.50" y1="466.40" x2="359.50" y2="469.00" stroke="#2f2f2f" stroke-width="1.0" />
<text x="359.50" y="479.20" font-size="8.5" text-anchor="middle" fill="#1a1a1a" stroke="#1a1a1a" stroke-width="0.18" >10</text>
<text x="294.80" y="491.00" font-size="8.5" text-anchor="middle" fill="#1a1a1a" stroke="#1a1a1a" stroke-width="0.18" >OS (years)</text>
<rect x="235.60" y="448.30" width="4.40" height="4.40" fill="#8c1840" />
<text x="241.70" y="453.20" font-size="8.2" text-anchor="start" fill="#962a5a" stroke="#962a5a" stroke-width="0.18" >11</text>
<rect x="235.60" y="455.50" width="4.40" height="4.40" fill="#7fa3cf" />
<text x="241.70" y="460.60" font-size="8.2" text-anchor="start" fill="#98b1d4" stroke="#98b1d4" stroke-width="0.18" >30</text>
<text x="356.50" y="463.00" font-size="8.5" text-anchor="end" fill="#1a1a1a" stroke="#1a1a1a" stroke-width="0.18" ><tspan font-style="italic">P</tspan> = 0.011</text>
<text x="230.10" y="506.00" font-size="8.5" text-anchor="middle" fill="#1a1a1a" stroke="#1a1a1a" stroke-width="0.18" >11</text>
<text x="230.10" y="516.20" font-size="8.5" text-anchor="middle" fill="#1a1a1a" stroke="#1a1a1a" stroke-width="0.18" >30</text>
<text x="255.98" y="506.00" font-size="8.5" text-anchor="middle" fill="#1a1a1a" stroke="#1a1a1a" stroke-width="0.18" >7</text>
<text x="255.98" y="516.20" font-size="8.5" text-anchor="middle" fill="#1a1a1a" stroke="#1a1a1a" stroke-width="0.18" >23</text>
<text x="281.86" y="506.00" font-size="8.5" text-anchor="middle" fill="#1a1a1a" stroke="#1a1a1a" stroke-width="0.18" >3</text>
<text x="281.86" y="516.20" font-size="8.5" text-anchor="middle" fill="#1a1a1a" stroke="#1a1a1a" stroke-width="0.18" >19</text>
<text x="307.74" y="506.00" font-size="8.5" text-anchor="middle" fill="#1a1a1a" stroke="#1a1a1a" stroke-width="0.18" >2</text>
<text x="307.74" y="516.20" font-size="8.5" text-anchor="middle" fill="#1a1a1a" stroke="#1a1a1a" stroke-width="0.18" >15</text>
<text x="333.62" y="506.00" font-size="8.5" text-anchor="middle" fill="#1a1a1a" stroke="#1a1a1a" stroke-width="0.18" >2</text>
<text x="333.62" y="516.20" font-size="8.5" text-anchor="middle" fill="#1a1a1a" stroke="#1a1a1a" stroke-width="0.18" >10</text>
<text x="359.50" y="506.00" font-size="8.5" text-anchor="middle" fill="#1a1a1a" stroke="#1a1a1a" stroke-width="0.18" >0</text>
<text x="359.50" y="516.20" font-size="8.5" text-anchor="middle" fill="#1a1a1a" stroke="#1a1a1a" stroke-width="0.18" >6</text>
<text x="452.50" y="351.80" font-size="8.5" text-anchor="middle" fill="#1a1a1a" stroke="#1a1a1a" stroke-width="0.18" >MDA (<tspan font-style="italic">n</tspan> = 36)</text>
<line x1="387.50" y1="355.40" x2="517.50" y2="355.40" stroke="#5a5a5a" stroke-width="1.1" />
<path d="M388.5 388.0L390.0 388.0L390.0 396.0L476.2 396.0L476.2 466.0L390.0 466.0L390.0 410.0L388.5 410.0Z" fill="rgba(215,110,150,0.085)"/>
<path d="M388.5 388.0L412.0 388.0L412.0 393.5L517.0 393.5L517.0 433.4L412.0 433.4L412.0 411.0L388.5 411.0Z" fill="rgba(120,160,210,0.075)"/>
<path d="M388.50 387.70H396.70V391.10H412.00V397.40H424.20V400.70H474.50V408.90H517.40" fill="none" stroke="#7fa3cf" stroke-width="1.5"/>
<line x1="413.20" y1="395.20" x2="413.20" y2="397.40" stroke="#7fa3cf" stroke-width="0.7" />
<line x1="416.00" y1="395.20" x2="416.00" y2="397.40" stroke="#7fa3cf" stroke-width="0.7" />
<line x1="427.00" y1="398.50" x2="427.00" y2="400.70" stroke="#7fa3cf" stroke-width="0.7" />
<line x1="438.00" y1="398.50" x2="438.00" y2="400.70" stroke="#7fa3cf" stroke-width="0.7" />
<line x1="439.80" y1="398.50" x2="439.80" y2="400.70" stroke="#7fa3cf" stroke-width="0.7" />
<line x1="441.60" y1="398.50" x2="441.60" y2="400.70" stroke="#7fa3cf" stroke-width="0.7" />
<line x1="444.40" y1="398.50" x2="444.40" y2="400.70" stroke="#7fa3cf" stroke-width="0.7" />
<line x1="446.20" y1="398.50" x2="446.20" y2="400.70" stroke="#7fa3cf" stroke-width="0.7" />
<line x1="448.90" y1="398.50" x2="448.90" y2="400.70" stroke="#7fa3cf" stroke-width="0.7" />
<line x1="451.90" y1="398.50" x2="451.90" y2="400.70" stroke="#7fa3cf" stroke-width="0.7" />
<line x1="456.50" y1="398.50" x2="456.50" y2="400.70" stroke="#7fa3cf" stroke-width="0.7" />
<line x1="468.40" y1="398.50" x2="468.40" y2="400.70" stroke="#7fa3cf" stroke-width="0.7" />
<line x1="470.30" y1="398.50" x2="470.30" y2="400.70" stroke="#7fa3cf" stroke-width="0.7" />
<line x1="472.10" y1="398.50" x2="472.10" y2="400.70" stroke="#7fa3cf" stroke-width="0.7" />
<line x1="501.50" y1="406.70" x2="501.50" y2="408.90" stroke="#7fa3cf" stroke-width="0.7" />
<line x1="513.40" y1="406.70" x2="513.40" y2="408.90" stroke="#7fa3cf" stroke-width="0.7" />
<line x1="515.20" y1="406.70" x2="515.20" y2="408.90" stroke="#7fa3cf" stroke-width="0.7" />
<path d="M388.50 387.70H389.40V397.00H397.30V405.20H401.30V414.40H404.60V423.60H407.20V431.80H417.50V440.00H476.70" fill="none" stroke="#8c1840" stroke-width="1.6"/>
<line x1="423.30" y1="437.50" x2="423.30" y2="440.00" stroke="#8c1840" stroke-width="0.8" />
<line x1="425.50" y1="437.50" x2="425.50" y2="440.00" stroke="#8c1840" stroke-width="0.8" />
<line x1="476.70" y1="437.50" x2="476.70" y2="440.00" stroke="#8c1840" stroke-width="0.8" />
<rect x="388.40" y="380.50" width="129.00" height="85.90" fill="none" stroke="#2f2f2f" stroke-width="1.2"/>
<line x1="388.40" y1="466.40" x2="388.40" y2="469.00" stroke="#2f2f2f" stroke-width="1.0" />
<text x="388.40" y="479.20" font-size="8.5" text-anchor="middle" fill="#1a1a1a" stroke="#1a1a1a" stroke-width="0.18" >0</text>
<line x1="409.90" y1="466.40" x2="409.90" y2="469.00" stroke="#2f2f2f" stroke-width="1.0" />
<text x="409.90" y="479.20" font-size="8.5" text-anchor="middle" fill="#1a1a1a" stroke="#1a1a1a" stroke-width="0.18" >1</text>
<line x1="431.40" y1="466.40" x2="431.40" y2="469.00" stroke="#2f2f2f" stroke-width="1.0" />
<text x="431.40" y="479.20" font-size="8.5" text-anchor="middle" fill="#1a1a1a" stroke="#1a1a1a" stroke-width="0.18" >2</text>
<line x1="452.90" y1="466.40" x2="452.90" y2="469.00" stroke="#2f2f2f" stroke-width="1.0" />
<text x="452.90" y="479.20" font-size="8.5" text-anchor="middle" fill="#1a1a1a" stroke="#1a1a1a" stroke-width="0.18" >3</text>
<line x1="474.40" y1="466.40" x2="474.40" y2="469.00" stroke="#2f2f2f" stroke-width="1.0" />
<text x="474.40" y="479.20" font-size="8.5" text-anchor="middle" fill="#1a1a1a" stroke="#1a1a1a" stroke-width="0.18" >4</text>
<line x1="495.90" y1="466.40" x2="495.90" y2="469.00" stroke="#2f2f2f" stroke-width="1.0" />
<text x="495.90" y="479.20" font-size="8.5" text-anchor="middle" fill="#1a1a1a" stroke="#1a1a1a" stroke-width="0.18" >5</text>
<line x1="517.40" y1="466.40" x2="517.40" y2="469.00" stroke="#2f2f2f" stroke-width="1.0" />
<text x="517.40" y="479.20" font-size="8.5" text-anchor="middle" fill="#1a1a1a" stroke="#1a1a1a" stroke-width="0.18" >6</text>
<text x="452.90" y="491.00" font-size="8.5" text-anchor="middle" fill="#1a1a1a" stroke="#1a1a1a" stroke-width="0.18" >OS (years)</text>
<rect x="393.90" y="448.30" width="4.40" height="4.40" fill="#8c1840" />
<text x="400.00" y="453.20" font-size="8.2" text-anchor="start" fill="#962a5a" stroke="#962a5a" stroke-width="0.18" >9</text>
<rect x="393.90" y="455.50" width="4.40" height="4.40" fill="#7fa3cf" />
<text x="400.00" y="460.60" font-size="8.2" text-anchor="start" fill="#98b1d4" stroke="#98b1d4" stroke-width="0.18" >27</text>
<text x="514.40" y="463.00" font-size="8.5" text-anchor="end" fill="#1a1a1a" stroke="#1a1a1a" stroke-width="0.18" ><tspan font-style="italic">P</tspan> = 0.001</text>
<text x="388.40" y="506.00" font-size="8.5" text-anchor="middle" fill="#1a1a1a" stroke="#1a1a1a" stroke-width="0.18" >9</text>
<text x="388.40" y="516.20" font-size="8.5" text-anchor="middle" fill="#1a1a1a" stroke="#1a1a1a" stroke-width="0.18" >27</text>
<text x="409.90" y="506.00" font-size="8.5" text-anchor="middle" fill="#1a1a1a" stroke="#1a1a1a" stroke-width="0.18" >5</text>
<text x="409.90" y="516.20" font-size="8.5" text-anchor="middle" fill="#1a1a1a" stroke="#1a1a1a" stroke-width="0.18" >26</text>
<text x="431.40" y="506.00" font-size="8.5" text-anchor="middle" fill="#1a1a1a" stroke="#1a1a1a" stroke-width="0.18" >2</text>
<text x="431.40" y="516.20" font-size="8.5" text-anchor="middle" fill="#1a1a1a" stroke="#1a1a1a" stroke-width="0.18" >19</text>
<text x="452.90" y="506.00" font-size="8.5" text-anchor="middle" fill="#1a1a1a" stroke="#1a1a1a" stroke-width="0.18" >2</text>
<text x="452.90" y="516.20" font-size="8.5" text-anchor="middle" fill="#1a1a1a" stroke="#1a1a1a" stroke-width="0.18" >13</text>
<text x="474.40" y="506.00" font-size="8.5" text-anchor="middle" fill="#1a1a1a" stroke="#1a1a1a" stroke-width="0.18" >2</text>
<text x="474.40" y="516.20" font-size="8.5" text-anchor="middle" fill="#1a1a1a" stroke="#1a1a1a" stroke-width="0.18" >9</text>
<text x="495.90" y="506.00" font-size="8.5" text-anchor="middle" fill="#1a1a1a" stroke="#1a1a1a" stroke-width="0.18" >0</text>
<text x="495.90" y="516.20" font-size="8.5" text-anchor="middle" fill="#1a1a1a" stroke="#1a1a1a" stroke-width="0.18" >5</text>
<text x="517.40" y="506.00" font-size="8.5" text-anchor="middle" fill="#1a1a1a" stroke="#1a1a1a" stroke-width="0.18" >0</text>
<text x="517.40" y="516.20" font-size="8.5" text-anchor="middle" fill="#1a1a1a" stroke="#1a1a1a" stroke-width="0.18" >2</text>
<line x1="68.00" y1="466.00" x2="71.00" y2="466.00" stroke="#2f2f2f" stroke-width="1.0" />
<text x="66.30" y="469.10" font-size="8.5" text-anchor="end" fill="#1a1a1a" stroke="#1a1a1a" stroke-width="0.18" >0</text>
<line x1="68.00" y1="446.45" x2="71.00" y2="446.45" stroke="#2f2f2f" stroke-width="1.0" />
<text x="66.30" y="449.55" font-size="8.5" text-anchor="end" fill="#1a1a1a" stroke="#1a1a1a" stroke-width="0.18" >25</text>
<line x1="68.00" y1="426.90" x2="71.00" y2="426.90" stroke="#2f2f2f" stroke-width="1.0" />
<text x="66.30" y="430.00" font-size="8.5" text-anchor="end" fill="#1a1a1a" stroke="#1a1a1a" stroke-width="0.18" >50</text>
<line x1="68.00" y1="407.35" x2="71.00" y2="407.35" stroke="#2f2f2f" stroke-width="1.0" />
<text x="66.30" y="410.45" font-size="8.5" text-anchor="end" fill="#1a1a1a" stroke="#1a1a1a" stroke-width="0.18" >75</text>
<line x1="68.00" y1="387.80" x2="71.00" y2="387.80" stroke="#2f2f2f" stroke-width="1.0" />
<text x="66.30" y="390.90" font-size="8.5" text-anchor="end" fill="#1a1a1a" stroke="#1a1a1a" stroke-width="0.18" >100</text>
<text x="0.00" y="0.00" font-size="8.5" text-anchor="middle" fill="#1a1a1a" stroke="#1a1a1a" stroke-width="0.18" transform="translate(45.5,426) rotate(-90)">Percent survival</text>
<line x1="71.20" y1="370.00" x2="90.80" y2="370.00" stroke="#8c1840" stroke-width="1.6" />
<line x1="81.20" y1="366.30" x2="81.20" y2="370.00" stroke="#8c1840" stroke-width="0.9" />
<text x="95.00" y="372.90" font-size="8.5" text-anchor="start" fill="#962a5a" stroke="#962a5a" stroke-width="0.18" >M+2+6&#8211; High</text>
<line x1="171.00" y1="370.00" x2="191.00" y2="370.00" stroke="#7fa3cf" stroke-width="1.5" />
<line x1="181.00" y1="366.30" x2="181.00" y2="370.00" stroke="#7fa3cf" stroke-width="0.8" />
<text x="195.80" y="372.90" font-size="8.5" text-anchor="start" fill="#98b1d4" stroke="#98b1d4" stroke-width="0.18" >M+2+6&#8211; Low</text>
<text x="2.50" y="495.50" font-size="8.5" text-anchor="start" fill="#1a1a1a" stroke="#1a1a1a" stroke-width="0.18" >Number at risk:</text>
<text x="2.50" y="506.00" font-size="8.5" text-anchor="start" fill="#962a5a" stroke="#962a5a" stroke-width="0.18" >M+2+6&#8211; high</text>
<text x="2.50" y="516.20" font-size="8.5" text-anchor="start" fill="#98b1d4" stroke="#98b1d4" stroke-width="0.18" >M+2+6&#8211; low</text>
</svg>
</body></html>
